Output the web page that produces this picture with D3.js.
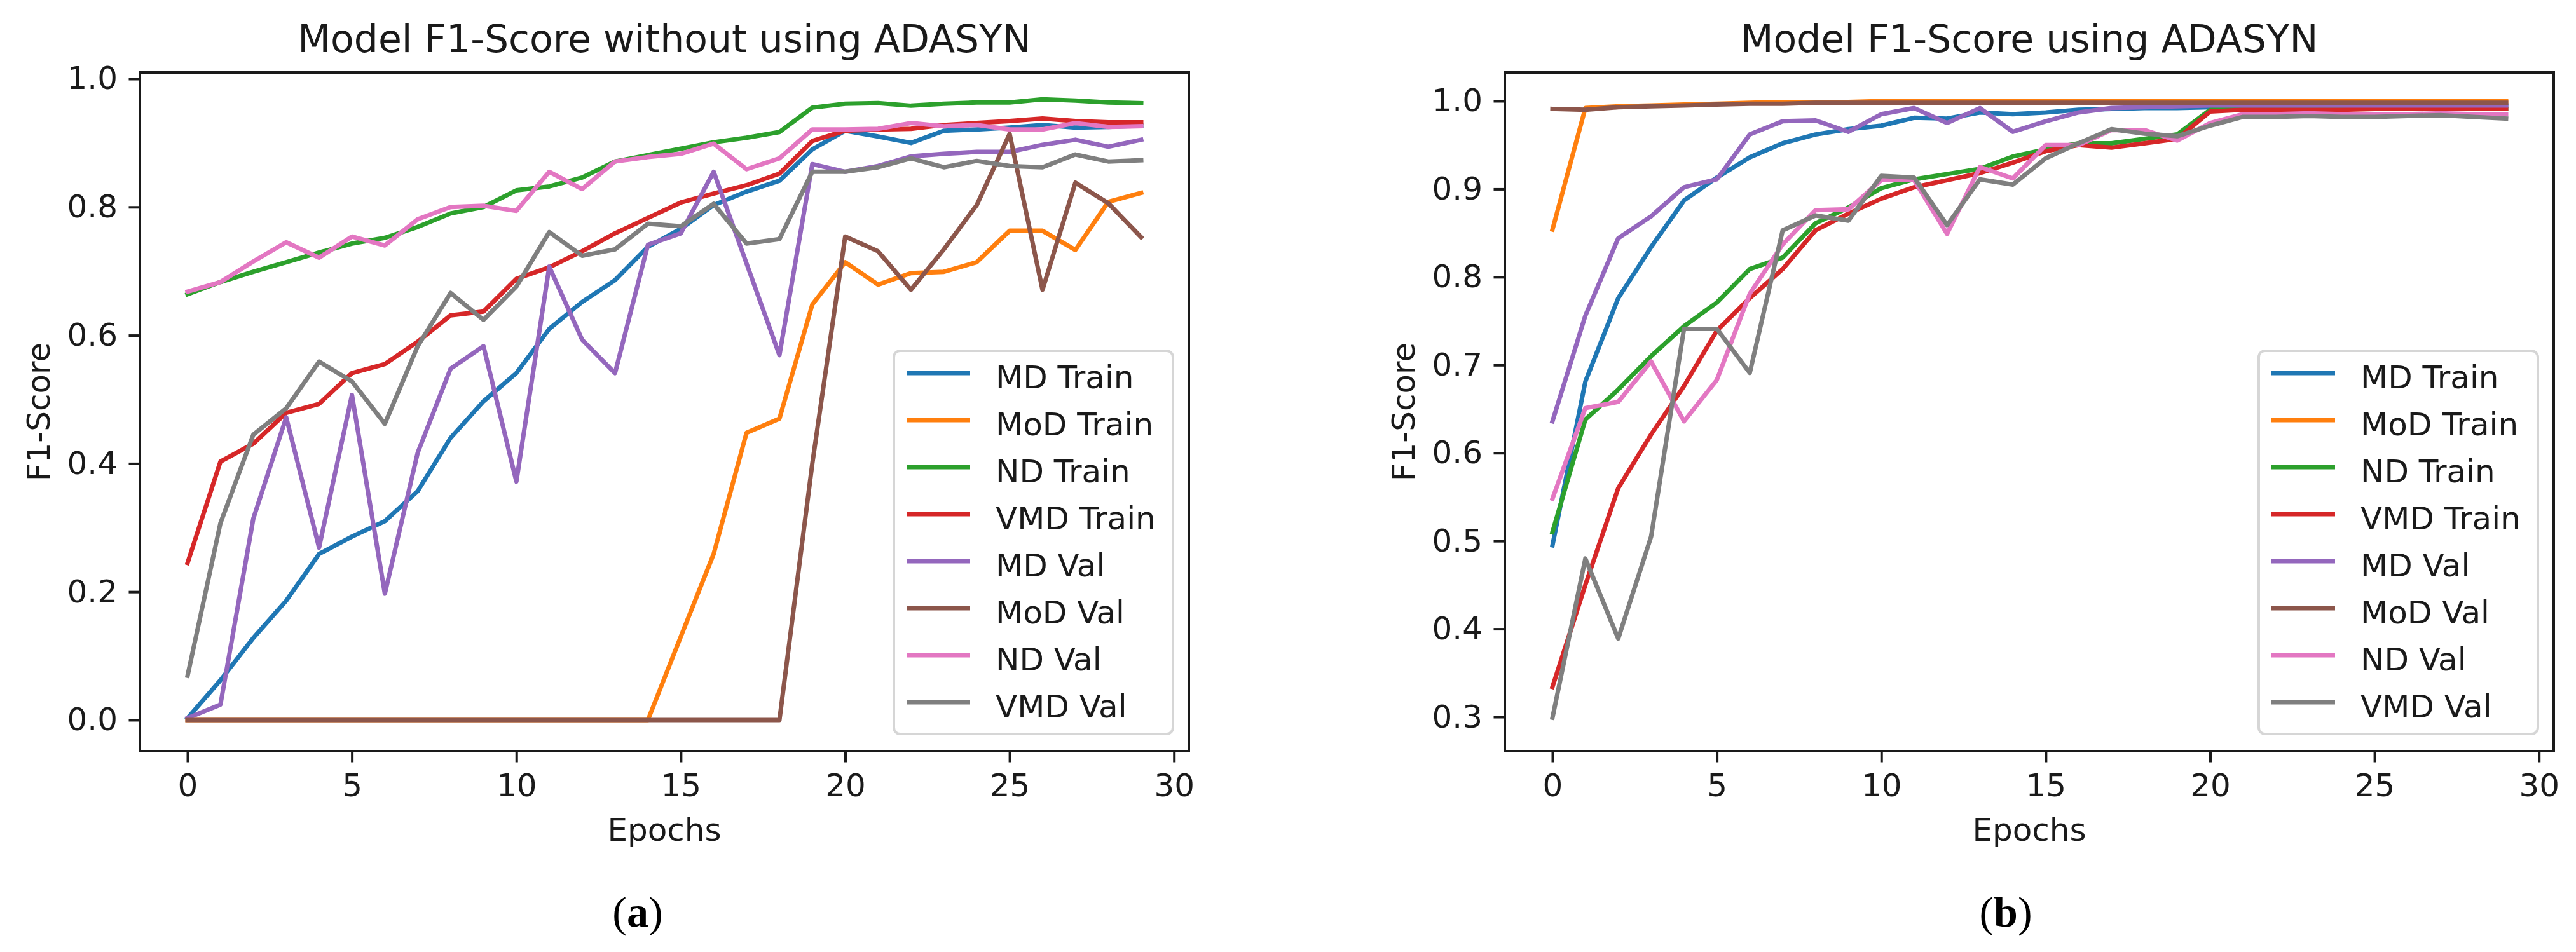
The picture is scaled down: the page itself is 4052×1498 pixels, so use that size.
<!DOCTYPE html>
<html>
<head>
<meta charset="utf-8">
<script src="https://cdn.jsdelivr.net/npm/d3@7"></script>
<style>
  html, body { margin: 0; padding: 0; background: #fff; }
  svg { display: block; }
</style>
</head>
<body>
<svg id="chart" width="4052" height="1498"></svg>
<script>
// ---------------- DATA ----------------
const epochs = [0,1,2,3,4,5,6,7,8,9,10,11,12,13,14,15,16,17,18,19,20,21,22,23,24,25,26,27,28,29];
const seriesNames = ["MD Train","MoD Train","ND Train","VMD Train","MD Val","MoD Val","ND Val","VMD Val"];
const seriesColors = ["#1f77b4","#ff7f0e","#2ca02c","#d62728","#9467bd","#8c564b","#e377c2","#7f7f7f"];

// (a) without ADASYN
const a_mdTrain  = [0.003,0.062,0.128,0.186,0.259,0.286,0.31,0.357,0.44,0.497,0.541,0.61,0.652,0.686,0.738,0.766,0.803,0.824,0.841,0.89,0.919,0.91,0.90,0.919,0.921,0.924,0.928,0.924,0.925,0.927];
const a_modTrain = [0,0,0,0,0,0,0,0,0,0,0,0,0,0,0,0.13,0.259,0.448,0.47,0.648,0.714,0.679,0.697,0.699,0.714,0.763,0.763,0.733,0.808,0.822];
const a_ndTrain  = [0.664,0.683,0.699,0.714,0.729,0.743,0.752,0.769,0.79,0.80,0.826,0.832,0.846,0.871,0.881,0.891,0.901,0.908,0.917,0.955,0.961,0.962,0.958,0.961,0.963,0.963,0.968,0.966,0.963,0.962];
const a_vmdTrain = [0.245,0.403,0.431,0.479,0.493,0.541,0.555,0.59,0.631,0.637,0.688,0.706,0.731,0.759,0.783,0.807,0.821,0.834,0.852,0.903,0.919,0.921,0.922,0.928,0.931,0.934,0.938,0.934,0.932,0.932];
const a_mdVal    = [0.003,0.024,0.314,0.472,0.269,0.507,0.197,0.417,0.548,0.583,0.372,0.707,0.593,0.541,0.741,0.759,0.855,0.712,0.569,0.867,0.855,0.864,0.879,0.883,0.886,0.886,0.897,0.905,0.894,0.905];
const a_modVal   = [0,0,0,0,0,0,0,0,0,0,0,0,0,0,0,0,0,0,0,0.40,0.754,0.731,0.671,0.734,0.803,0.914,0.671,0.838,0.806,0.753];
const a_ndVal    = [0.668,0.683,0.715,0.745,0.721,0.754,0.74,0.781,0.80,0.802,0.794,0.855,0.828,0.871,0.878,0.883,0.899,0.859,0.876,0.921,0.921,0.922,0.931,0.926,0.928,0.921,0.921,0.931,0.925,0.926];
const a_vmdVal   = [0.069,0.307,0.445,0.486,0.559,0.528,0.462,0.583,0.666,0.624,0.676,0.761,0.724,0.734,0.774,0.77,0.805,0.743,0.75,0.855,0.855,0.862,0.876,0.862,0.872,0.864,0.862,0.882,0.871,0.873];

// (b) using ADASYN
const b_mdTrain  = [0.495,0.681,0.776,0.834,0.887,0.913,0.936,0.952,0.962,0.968,0.972,0.981,0.98,0.987,0.985,0.987,0.99,0.991,0.992,0.992,0.993,0.994,0.994,0.994,0.995,0.995,0.995,0.995,0.995,0.995];
const b_modTrain = [0.854,0.992,0.994,0.995,0.996,0.997,0.998,0.999,0.999,0.999,1.0,1.0,1.0,1.0,1.0,1.0,1.0,1.0,1.0,1.0,1.0,1.0,1.0,1.0,1.0,1.0,1.0,1.0,1.0,1.0];
const b_ndTrain  = [0.51,0.638,0.672,0.71,0.744,0.771,0.809,0.822,0.861,0.879,0.901,0.911,0.917,0.923,0.937,0.945,0.952,0.952,0.957,0.962,0.99,0.991,0.991,0.991,0.991,0.991,0.991,0.991,0.991,0.991];
const b_vmdTrain = [0.334,0.45,0.56,0.621,0.676,0.739,0.776,0.809,0.853,0.872,0.889,0.902,0.91,0.918,0.93,0.943,0.95,0.947,0.952,0.957,0.988,0.99,0.99,0.99,0.99,0.991,0.991,0.991,0.991,0.991];
const b_mdVal    = [0.636,0.756,0.844,0.869,0.902,0.911,0.962,0.977,0.978,0.965,0.985,0.992,0.975,0.992,0.965,0.977,0.987,0.992,0.993,0.994,0.995,0.995,0.995,0.995,0.995,0.995,0.995,0.995,0.995,0.995];
const b_modVal   = [0.991,0.99,0.993,0.994,0.995,0.996,0.997,0.997,0.998,0.998,0.998,0.998,0.998,0.998,0.998,0.998,0.998,0.998,0.998,0.998,0.998,0.998,0.998,0.998,0.998,0.998,0.998,0.998,0.998,0.998];
const b_ndVal    = [0.548,0.651,0.658,0.704,0.636,0.683,0.781,0.837,0.876,0.877,0.91,0.91,0.849,0.925,0.912,0.95,0.95,0.967,0.967,0.955,0.975,0.985,0.985,0.986,0.985,0.985,0.985,0.986,0.985,0.985];
const b_vmdVal   = [0.299,0.48,0.389,0.505,0.741,0.741,0.691,0.853,0.87,0.864,0.915,0.913,0.859,0.911,0.905,0.935,0.952,0.968,0.963,0.96,0.972,0.982,0.982,0.983,0.982,0.982,0.983,0.984,0.982,0.98];

const xTickValues = [0,5,10,15,20,25,30];
const yTicksA = [0.0,0.2,0.4,0.6,0.8,1.0];
const yTicksB = [0.3,0.4,0.5,0.6,0.7,0.8,0.9,1.0];

const titleA = "Model F1-Score without using ADASYN";
const titleB = "Model F1-Score using ADASYN";
const xLabel = "Epochs";
const yLabel = "F1-Score";

// ---------------- DRAW ----------------
const svg = d3.select("#chart");
const FONT = "'DejaVu Sans', 'Liberation Sans', sans-serif";
const INK = "#1a1a1a";

function panel(opts) {
  const {x0, x1, y0, y1, yDomain, yTicks, series, title, caption, capLetter, capX} = opts;
  const x = d3.scaleLinear().domain([-1.45, 30.45]).range([x0, x1]);
  const y = d3.scaleLinear().domain(yDomain).range([y1, y0]);
  const g = svg.append("g");

  // lines
  const line = d3.line().x((d, i) => x(epochs[i])).y(d => y(d));
  series.forEach((s, k) => {
    g.append("path")
      .attr("d", line(s))
      .attr("fill", "none")
      .attr("stroke", seriesColors[k])
      .attr("stroke-width", 7)
      .attr("stroke-linejoin", "round")
      .attr("stroke-linecap", "square");
  });

  // axes
  const xAxis = d3.axisBottom(x).tickValues(xTickValues).tickFormat(d3.format("d"))
    .tickSize(17.5).tickPadding(17.5).tickSizeOuter(0);
  const yAxis = d3.axisLeft(y).tickValues(yTicks).tickFormat(d3.format(".1f"))
    .tickSize(17.5).tickPadding(17.5).tickSizeOuter(0);

  const gx = g.append("g").attr("transform", `translate(0,${y1})`).call(xAxis);
  const gy = g.append("g").attr("transform", `translate(${x0},0)`).call(yAxis);
  [gx, gy].forEach(ax => {
    ax.select(".domain").remove();
    ax.selectAll(".tick line").attr("stroke", INK).attr("stroke-width", 4);
    ax.selectAll(".tick text").attr("fill", INK).style("font-family", FONT).style("font-size", "50px");
  });

  // frame (spines)
  g.append("rect")
    .attr("x", x0).attr("y", y0)
    .attr("width", x1 - x0).attr("height", y1 - y0)
    .attr("fill", "none").attr("stroke", INK).attr("stroke-width", 4);

  // title
  g.append("text")
    .attr("x", (x0 + x1) / 2).attr("y", 82)
    .attr("text-anchor", "middle")
    .style("font-family", FONT).style("font-size", "60px").attr("fill", INK)
    .text(title);

  // x label
  g.append("text")
    .attr("x", (x0 + x1) / 2).attr("y", 1323)
    .attr("text-anchor", "middle")
    .style("font-family", FONT).style("font-size", "50px").attr("fill", INK)
    .text(xLabel);

  // y label
  const ylx = x0 - 142, yly = (y0 + y1) / 2;
  g.append("text")
    .attr("transform", `translate(${ylx},${yly}) rotate(-90)`)
    .attr("text-anchor", "middle")
    .style("font-family", FONT).style("font-size", "50px").attr("fill", INK)
    .text(yLabel);

  // legend
  const lw = 439, lh = 603;
  const lx = x1 - 25 - lw, ly = y1 - 27 - lh;
  const lg = g.append("g");
  lg.append("rect")
    .attr("x", lx).attr("y", ly).attr("width", lw).attr("height", lh)
    .attr("rx", 10).attr("ry", 10)
    .attr("fill", "#fff").attr("fill-opacity", 0.8)
    .attr("stroke", "#d6d6d6").attr("stroke-width", 4);
  seriesNames.forEach((name, k) => {
    const cy = ly + 35 + k * 74;
    lg.append("line")
      .attr("x1", lx + 20).attr("x2", lx + 120)
      .attr("y1", cy).attr("y2", cy)
      .attr("stroke", seriesColors[k]).attr("stroke-width", 7);
    lg.append("text")
      .attr("x", lx + 160).attr("y", cy + 24)
      .style("font-family", FONT).style("font-size", "50px").attr("fill", INK)
      .text(name);
  });

  // caption
  const cap = g.append("text")
    .attr("x", capX).attr("y", 1458)
    .attr("text-anchor", "middle")
    .style("font-family", "'Liberation Serif', 'DejaVu Serif', serif")
    .style("font-size", "68px").attr("fill", "#000");
  cap.append("tspan").text("(");
  cap.append("tspan").attr("font-weight", "bold").text(capLetter);
  cap.append("tspan").text(")");
}

panel({
  x0: 220, x1: 1870, y0: 114, y1: 1182,
  yDomain: [-0.0486, 1.0099], yTicks: yTicksA,
  series: [a_mdTrain, a_modTrain, a_ndTrain, a_vmdTrain, a_mdVal, a_modVal, a_ndVal, a_vmdVal],
  title: titleA, capLetter: "a", capX: 1003
});

panel({
  x0: 2367, x1: 4017, y0: 114, y1: 1182,
  yDomain: [0.261, 1.0325], yTicks: yTicksB,
  series: [b_mdTrain, b_modTrain, b_ndTrain, b_vmdTrain, b_mdVal, b_modVal, b_ndVal, b_vmdVal],
  title: titleB, capLetter: "b", capX: 3155
});
</script>
</body>
</html>
